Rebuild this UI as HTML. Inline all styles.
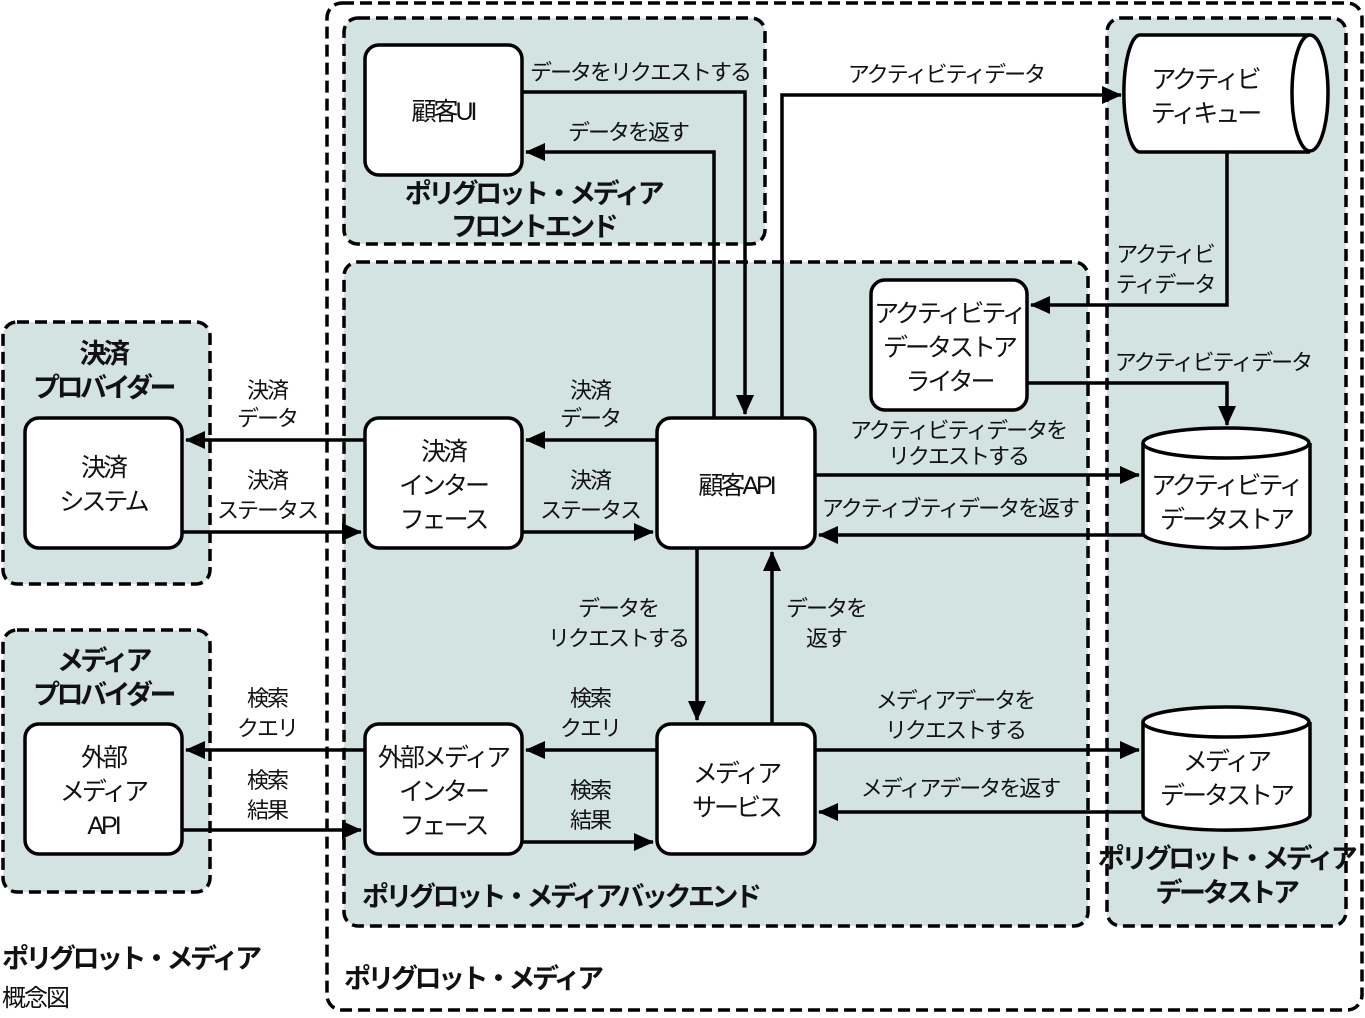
<!DOCTYPE html>
<html><head><meta charset="utf-8"><style>
body{margin:0;background:#fff}
text{font-family:"Liberation Sans","Noto Sans CJK JP",sans-serif;fill:#111}
.l{font-size:22px;letter-spacing:-2px}
.n{font-size:25px;letter-spacing:-3px}
.b{font-size:27px;font-weight:bold;letter-spacing:-3.5px}
</style></head><body>
<svg width="1365" height="1013" viewBox="0 0 1365 1013" xmlns="http://www.w3.org/2000/svg">
<defs>
<marker id="A" markerWidth="20" markerHeight="18" refX="19" refY="9" orient="auto" markerUnits="userSpaceOnUse" viewBox="0 0 20 18"><path d="M0,0L20,9L0,18z" fill="#000"/></marker></defs>
<g fill="none" stroke="#000" stroke-width="3.5" stroke-dasharray="12,6">
<rect x="327" y="3" width="1035" height="1007" rx="15"/>
<rect x="344" y="18" width="421" height="226" rx="14" fill="#d3e3e1"/>
<rect x="344" y="262" width="744" height="664" rx="14" fill="#d3e3e1"/>
<rect x="1107" y="18" width="239" height="908" rx="14" fill="#d3e3e1"/>
<rect x="3" y="322" width="207" height="262" rx="14" fill="#d3e3e1"/>
<rect x="3" y="630" width="207" height="262" rx="14" fill="#d3e3e1"/>
</g>
<g fill="#fff" stroke="#000" stroke-width="3.5">
<rect x="365" y="45" width="157" height="130" rx="14"/>
<rect x="365" y="418" width="157" height="130" rx="14"/>
<rect x="657" y="418" width="158" height="130" rx="14"/>
<rect x="365" y="724" width="157" height="130" rx="14"/>
<rect x="657" y="724" width="158" height="130" rx="14"/>
<rect x="25" y="418" width="157" height="130" rx="14"/>
<rect x="25" y="724" width="157" height="130" rx="14"/>
<rect x="871" y="280" width="156" height="130" rx="14"/>
<path d="M1143,443 V533 A83,15 0 0 0 1310,533 V443"/>
<ellipse cx="1226" cy="443" rx="83" ry="15"/>
<path d="M1143,722 V815 A83,15 0 0 0 1310,815 V722"/>
<ellipse cx="1226" cy="722" rx="83" ry="15"/>
<path d="M1310,35 H1140 A16,58 0 0 0 1140,152 H1310"/>
<ellipse cx="1310" cy="93" rx="18" ry="58"/>
</g>
<g fill="none" stroke="#000" stroke-width="3.5" marker-end="url(#A)">
<path d="M522,92 H745 V414"/>
<path d="M714,418 V152 H526"/>
<path d="M782,418 V95 H1121"/>
<path d="M1227,152 V305 H1031"/>
<path d="M1027,383 H1227 V425"/>
<path d="M815,475 H1139"/>
<path d="M1143,535 H819"/>
<path d="M657,440 H526"/>
<path d="M522,532 H653"/>
<path d="M365,440 H186"/>
<path d="M182,532 H361"/>
<path d="M697,548 V720"/>
<path d="M772,724 V552"/>
<path d="M657,750 H526"/>
<path d="M522,842 H653"/>
<path d="M365,750 H186"/>
<path d="M182,830 H361"/>
<path d="M815,750 H1139"/>
<path d="M1143,812 H819"/>
</g>
<g class="n" text-anchor="middle">
<text x="443" y="120">顧客UI</text>
<text x="443" y="460">決済</text><text x="443" y="494">インター</text><text x="443" y="528">フェース</text>
<text x="736" y="494">顧客API</text>
<text x="443" y="766">外部メディア</text><text x="443" y="800">インター</text><text x="443" y="834">フェース</text>
<text x="736" y="782">メディア</text><text x="736" y="816">サービス</text>
<text x="103" y="476">決済</text><text x="103" y="510">システム</text>
<text x="103" y="766">外部</text><text x="103" y="800">メディア</text><text x="103" y="834">API</text>
<text x="949" y="322">アクティビティ</text><text x="949" y="356">データストア</text><text x="949" y="390">ライター</text>
<text x="1226" y="494">アクティビティ</text><text x="1226" y="528">データストア</text>
<text x="1226" y="770">メディア</text><text x="1226" y="804">データストア</text>
<text x="1205" y="88">アクティビ</text><text x="1205" y="122">ティキュー</text>
</g>
<g class="b" text-anchor="middle">
<text x="533" y="203">ポリグロット・メディア</text><text x="533" y="236">フロントエンド</text>
<text x="103" y="363">決済</text><text x="103" y="397">プロバイダー</text>
<text x="103" y="670">メディア</text><text x="103" y="704">プロバイダー</text>
<text x="1226" y="868">ポリグロット・メディア</text><text x="1226" y="902">データストア</text>
</g>
<g class="b">
<text x="362" y="906">ポリグロット・メディアバックエンド</text>
<text x="344" y="988">ポリグロット・メディア</text>
<text x="2" y="968">ポリグロット・メディア</text>
</g>
<text x="2" y="1006" style="font-size:24px;letter-spacing:-2px">概念図</text>
<g class="l" text-anchor="middle">
<text x="640" y="80">データをリクエストする</text>
<text x="628" y="140">データを返す</text>
<text x="946" y="82">アクティビティデータ</text>
<text x="1165" y="262">アクティビ</text><text x="1165" y="292">ティデータ</text>
<text x="1213" y="370">アクティビティデータ</text>
<text x="958" y="438">アクティビティデータを</text><text x="958" y="464">リクエストする</text>
<text x="950" y="516">アクティブティデータを返す</text>
<text x="590" y="398">決済</text><text x="590" y="426">データ</text>
<text x="590" y="488">決済</text><text x="590" y="518">ステータス</text>
<text x="267" y="398">決済</text><text x="267" y="426">データ</text>
<text x="267" y="488">決済</text><text x="267" y="518">ステータス</text>
<text x="618" y="616">データを</text><text x="618" y="646">リクエストする</text>
<text x="826" y="616">データを</text><text x="826" y="646">返す</text>
<text x="590" y="706">検索</text><text x="590" y="736">クエリ</text>
<text x="590" y="798">検索</text><text x="590" y="828">結果</text>
<text x="267" y="706">検索</text><text x="267" y="736">クエリ</text>
<text x="267" y="788">検索</text><text x="267" y="818">結果</text>
<text x="955" y="708">メディアデータを</text><text x="955" y="738">リクエストする</text>
<text x="960" y="796">メディアデータを返す</text>
</g>
</svg>
</body></html>
